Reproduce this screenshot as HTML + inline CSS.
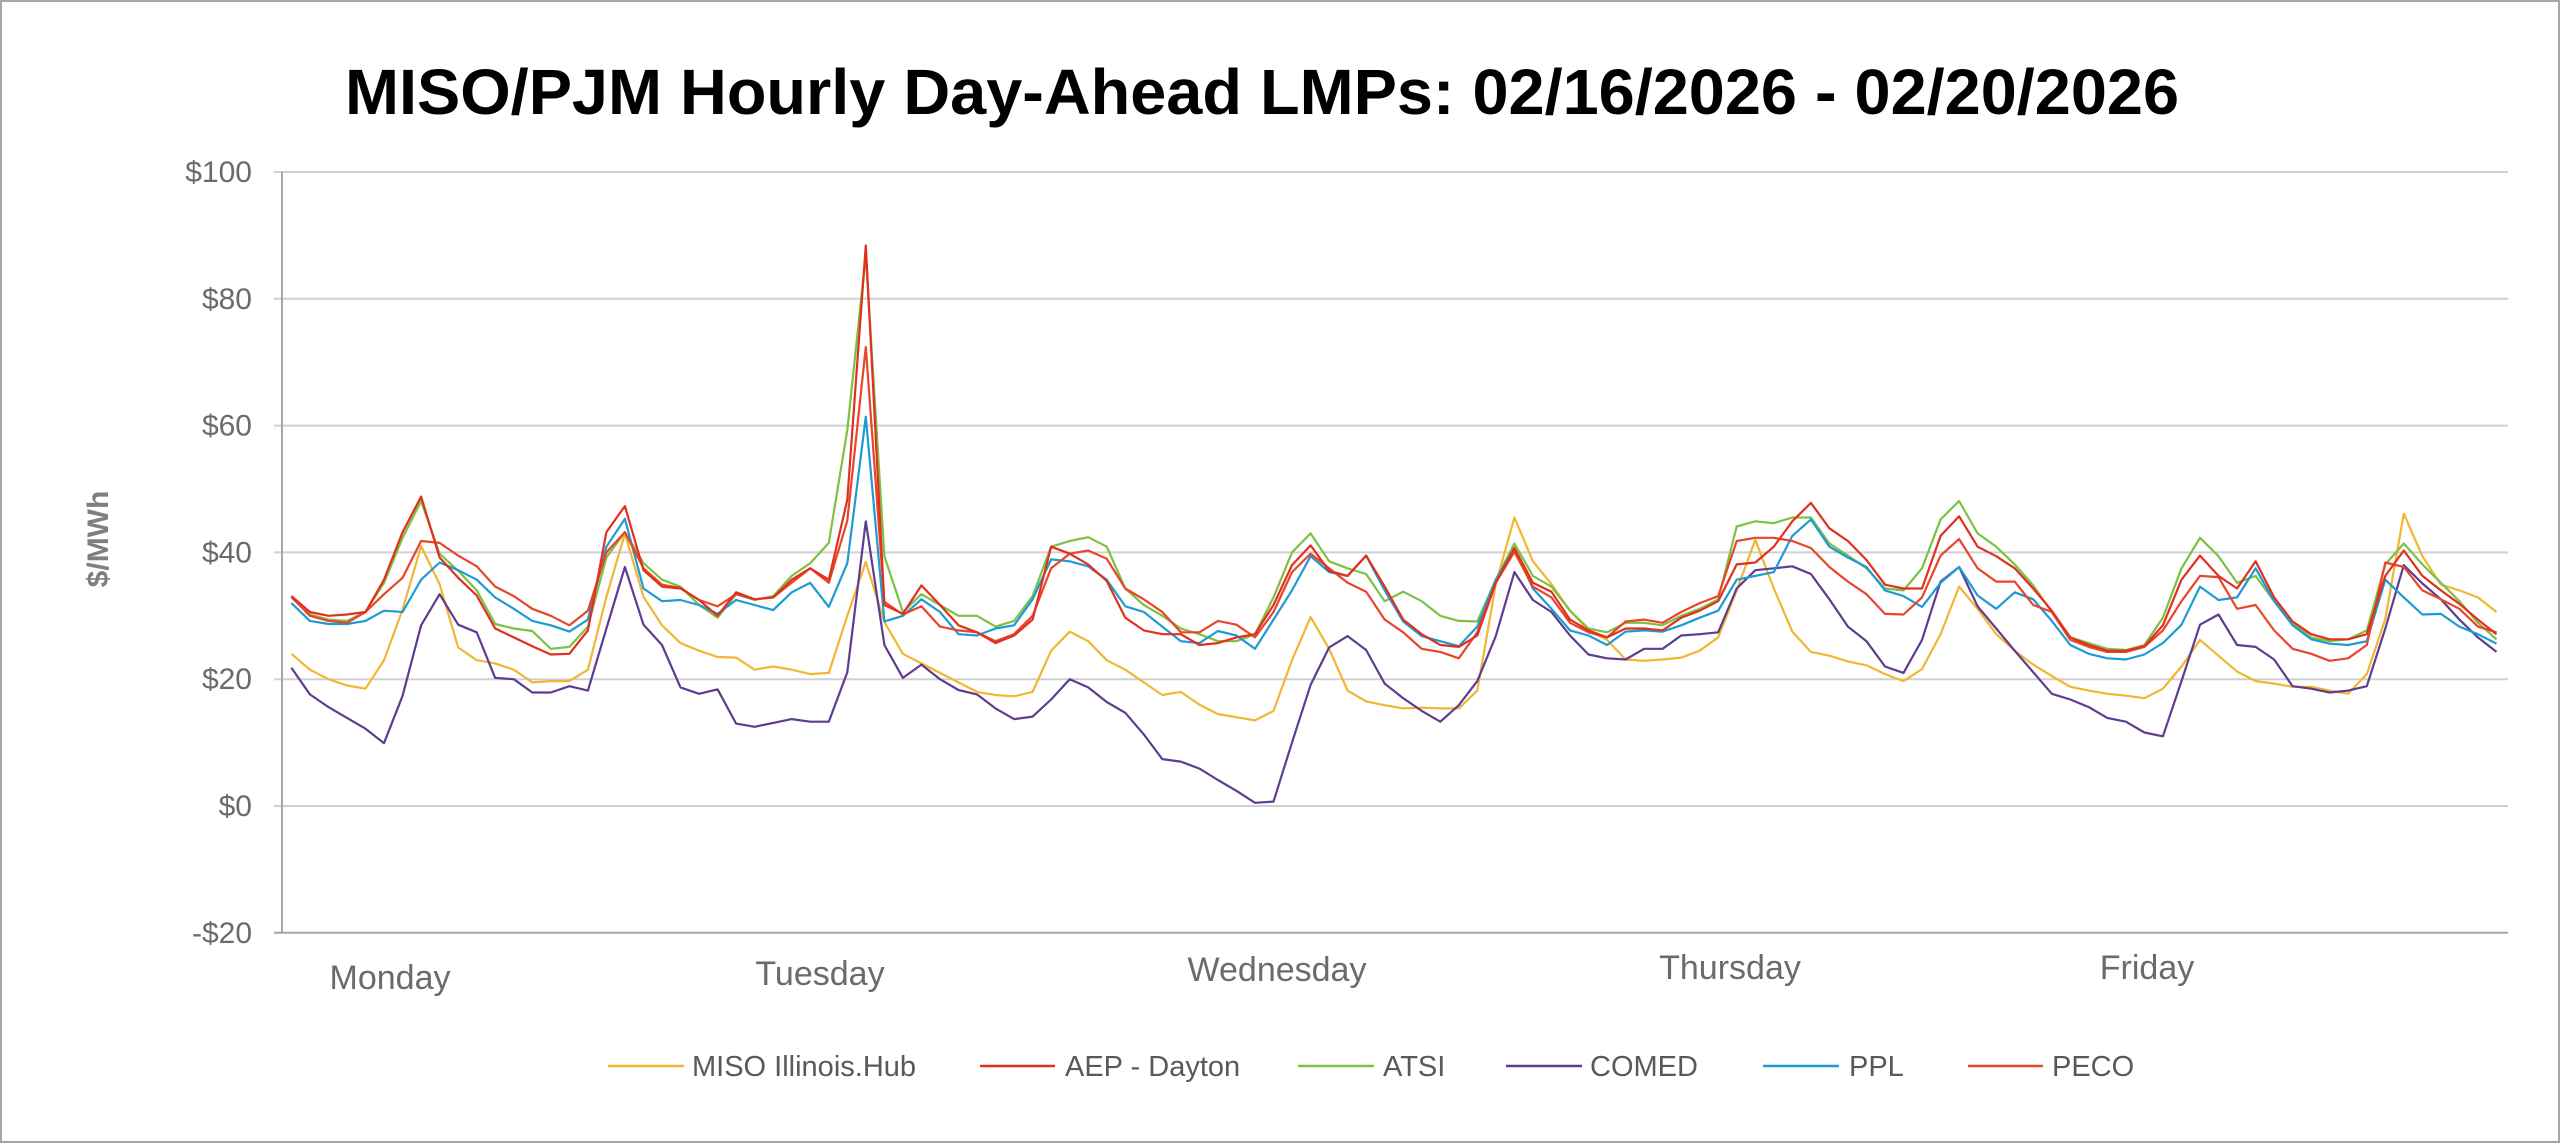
<!DOCTYPE html>
<html><head><meta charset="utf-8"><style>
html,body{margin:0;padding:0;background:#fff}
svg{display:block}
text{font-family:"Liberation Sans",Arial,sans-serif}
</style></head><body>
<svg id="c" width="2560" height="1143" viewBox="0 0 2560 1143" xmlns="http://www.w3.org/2000/svg">
<rect x="1" y="1" width="2558" height="1141" fill="#fff" stroke="#a6a6a6" stroke-width="2"/>
<text x="1262" y="114" text-anchor="middle" font-size="64" font-weight="bold" fill="#000" textLength="1834" lengthAdjust="spacingAndGlyphs">MISO/PJM Hourly Day-Ahead LMPs: 02/16/2026 - 02/20/2026</text>
<g id="grid" stroke="#d0d0d0" stroke-width="2"></g>
<g id="ylab" font-size="30" fill="#6b6b6b" text-anchor="end"></g>
<line x1="282" y1="172" x2="282" y2="933" stroke="#a6a6a6" stroke-width="2"/>
<text transform="translate(108,539) rotate(-90)" text-anchor="middle" font-size="30" font-weight="bold" fill="#7f7f7f">$/MWh</text>
<g font-size="34" fill="#6b6b6b" text-anchor="middle">
<text x="390" y="989">Monday</text>
<text x="820" y="985">Tuesday</text>
<text x="1277" y="981">Wednesday</text>
<text x="1730" y="979">Thursday</text>
<text x="2147" y="979">Friday</text>
</g>
<g id="series" fill="none" stroke-width="2.2" stroke-linejoin="round"></g>
<g font-size="29" fill="#595959">
<line x1="608" y1="1066" x2="684" y2="1066" stroke="#F2B632" stroke-width="2.5"/><text x="692" y="1076">MISO Illinois.Hub</text>
<line x1="980" y1="1066" x2="1055" y2="1066" stroke="#E0301E" stroke-width="2.5"/><text x="1065" y="1076">AEP - Dayton</text>
<line x1="1298" y1="1066" x2="1374" y2="1066" stroke="#7DC142" stroke-width="2.5"/><text x="1383" y="1076">ATSI</text>
<line x1="1506" y1="1066" x2="1582" y2="1066" stroke="#5E3C8F" stroke-width="2.5"/><text x="1590" y="1076">COMED</text>
<line x1="1763" y1="1066" x2="1839" y2="1066" stroke="#1E9AD6" stroke-width="2.5"/><text x="1849" y="1076">PPL</text>
<line x1="1968" y1="1066" x2="2043" y2="1066" stroke="#E8452A" stroke-width="2.5"/><text x="2052" y="1076">PECO</text>
</g>
</svg>
<script>
var NS="http://www.w3.org/2000/svg";
function Y(v){return 806-v*6.34;}
var g=document.getElementById('grid'),yl=document.getElementById('ylab');
for(var v=-20;v<=100;v+=20){
 var l=document.createElementNS(NS,'line');
 l.setAttribute('x1',v==-20?274:274);l.setAttribute('x2',2508);
 l.setAttribute('y1',Y(v));l.setAttribute('y2',Y(v));
 if(v==-20)l.setAttribute('stroke','#a6a6a6');
 g.appendChild(l);
 var t=document.createElementNS(NS,'text');
 t.setAttribute('x',252);t.setAttribute('y',Y(v)+10);
 t.textContent=(v<0?'-$'+(-v):'$'+v);yl.appendChild(t);
}
var S=[
["#F2B632",[24,21.5,20,19,18.5,23,31,41,35,25,23,22.5,21.5,19.5,19.7,19.7,21.5,33,43,33,28.5,25.7,24.5,23.5,23.4,21.5,22,21.5,20.8,21,30,38.5,29,24,22.5,21,19.5,18,17.5,17.3,18,24.5,27.5,26,23,21.5,19.5,17.5,18,16,14.5,14,13.5,15,23,29.8,24.8,18.2,16.5,15.9,15.4,15.5,15.4,15.4,18.2,35,45.5,38.6,35,30.8,27.7,26.2,23.1,22.9,23.1,23.4,24.5,26.6,34,42,34.3,27.5,24.3,23.7,22.8,22.2,20.8,19.7,21.6,27.1,34.6,31.1,27.1,24.5,22.3,20.5,18.8,18.2,17.7,17.4,17,18.5,22,26.2,23.7,21.2,19.7,19.3,18.8,18.8,18.2,17.7,20.8,29.5,46.1,39.4,34.9,34,32.9,30.6]],
["#5E3C8F",[21.8,17.6,15.6,13.9,12.2,9.9,17.4,28.5,33.4,28.6,27.4,20.2,20,17.9,17.9,18.9,18.2,28,37.7,28.6,25.4,18.7,17.7,18.4,13,12.5,13.1,13.7,13.3,13.3,21.1,44.9,25.4,20.2,22.3,20,18.3,17.6,15.4,13.7,14.1,16.8,20,18.7,16.4,14.7,11.3,7.4,7,5.9,4.1,2.4,0.5,0.7,10,19.1,25,26.8,24.6,19.3,17,15,13.3,15.9,19.7,26.8,36.9,32.5,30.6,26.9,23.9,23.3,23.1,24.8,24.8,26.9,27.1,27.4,34.3,37.2,37.5,37.8,36.6,32.6,28.3,26,22,21,26.2,35.4,37.7,31.5,28,24.5,21.1,17.7,16.8,15.6,13.9,13.3,11.6,11,19.7,28.6,30.2,25.4,25.1,23.1,18.9,18.5,17.9,18.2,18.9,28,38,35.1,32.6,29.4,26.6,24.3]],
["#7DC142",[32.9,30.2,29.4,29.2,30.6,35.2,42.3,48.1,39.8,37.1,34,28.7,28,27.6,24.8,25.1,28.3,39.2,43.2,38.3,35.7,34.6,31.7,29.7,33.4,32.5,33.1,36.3,38.3,41.5,59.3,86.9,39.4,30.6,33.4,31.7,30,30,28.3,29.2,33.1,40.9,41.8,42.4,40.9,34.3,31.7,30,28,27.1,26,26,27.1,32.9,40,43,38.6,37.5,36.6,32.3,33.8,32.3,30,29.2,29.1,35.7,41.4,36.3,34.6,30.8,28,27.4,28.9,28.9,28.5,30,31.1,32.6,44.1,44.9,44.6,45.5,45.5,41.4,39.5,37.5,34.3,34,37.5,45.2,48.1,43,40.9,38.1,34.8,30.6,26.6,25.7,24.8,24.6,25.4,29.7,37.5,42.3,39.4,35.2,36.3,32.3,28.9,26.6,26,26.3,27.7,38.1,41.4,38.1,35.2,32.3,28.9,26.3]],
["#1E9AD6",[32,29.2,28.7,28.7,29.2,30.8,30.6,35.7,38.4,37.2,35.7,32.9,31.1,29.2,28.5,27.5,29.4,40.9,45.3,34.3,32.3,32.5,31.7,30.3,32.5,31.7,30.9,33.7,35.2,31.4,38.3,61.4,29.1,30,32.6,30.6,27.1,26.9,28,28.5,32.6,38.9,38.6,37.8,35.7,31.5,30.6,28.3,26,25.7,27.6,26.9,24.8,29.4,34,39.4,36.9,36.3,39.5,34,29.1,26.8,26,25.2,28.3,35.7,40.7,34.3,31.1,27.7,26.9,25.4,27.5,27.7,27.5,28.5,29.7,30.8,35.7,36.3,36.9,42.6,45.2,40.9,39.2,37.7,34,33.1,31.4,35.2,37.7,33.2,31.1,33.7,32.6,29.2,25.4,24,23.3,23.1,23.9,25.7,28.6,34.6,32.5,32.9,37.5,32.3,28.5,26.3,25.6,25.4,26,35.7,32.9,30.2,30.3,28.3,27.1,25.6]],
["#E8452A",[33,30,29.2,28.9,30.6,33.4,36,41.8,41.5,39.5,37.8,34.6,33.1,31.1,30,28.5,30.8,40,43.2,37.5,34.9,34.4,32.5,31.5,33.4,32.6,32.9,35.2,37.5,35.2,45,72.4,32.2,30.2,31.5,28.3,27.7,27.4,26,27.1,30,37.5,39.8,40.3,39,34.3,32.6,30.6,27.4,27.4,29.2,28.6,26.6,30.6,36.9,39.8,37.5,35.2,33.8,29.4,27.4,24.8,24.3,23.3,27.4,35.2,40.1,34.6,32.9,28.9,27.4,26.6,29.1,29.4,28.9,30.6,32,33.1,41.8,42.3,42.3,41.8,40.7,37.7,35.4,33.4,30.3,30.2,32.9,39.5,42.1,37.5,35.4,35.4,31.7,30.6,26.2,25.1,24.3,24.3,25.1,27.7,32.3,36.3,36.1,31.1,31.7,27.7,24.8,24,22.9,23.3,25.4,38.4,37.7,34,32.6,31.1,28.3,27.4]],
["#E0301E",[33.1,30.6,30,30.2,30.6,35.7,43.2,48.8,39.2,36,33.2,28,26.6,25.2,23.9,24,27.7,43.2,47.3,37.2,34.6,34.3,32.5,30,33.7,32.6,32.9,35.7,37.5,35.7,48.3,88.4,31.7,30.3,34.8,31.7,28.5,27.4,25.7,26.9,29.4,40.9,39.8,38.1,35.5,29.7,27.7,27.1,27.1,25.4,25.7,26.6,27.1,31.7,38,41.1,37.1,36.3,39.5,34.6,29.4,27.1,25.4,25.1,26.9,35.2,40.7,35.2,33.8,29.4,27.7,26.6,28,28,27.7,29.7,30.8,32.3,38.1,38.4,40.9,44.9,47.8,43.8,41.8,38.8,34.9,34.3,34.3,42.6,45.7,40.9,39.4,37.5,34.3,30.8,26.6,25.4,24.5,24.5,25.2,28.5,35.7,39.5,36.3,34.3,38.6,32.9,29.1,27.1,26.3,26.3,27.1,36.3,40.3,36.3,34,31.9,29.4,27.1]]
];
var sg=document.getElementById('series');
S.forEach(function(s){
 var p=document.createElementNS(NS,'polyline');
 p.setAttribute('stroke',s[0]);
 p.setAttribute('points',s[1].map(function(v,i){return (291.4+18.53*i).toFixed(1)+','+Y(v).toFixed(1);}).join(' '));
 sg.appendChild(p);
});
</script>
</body></html>
